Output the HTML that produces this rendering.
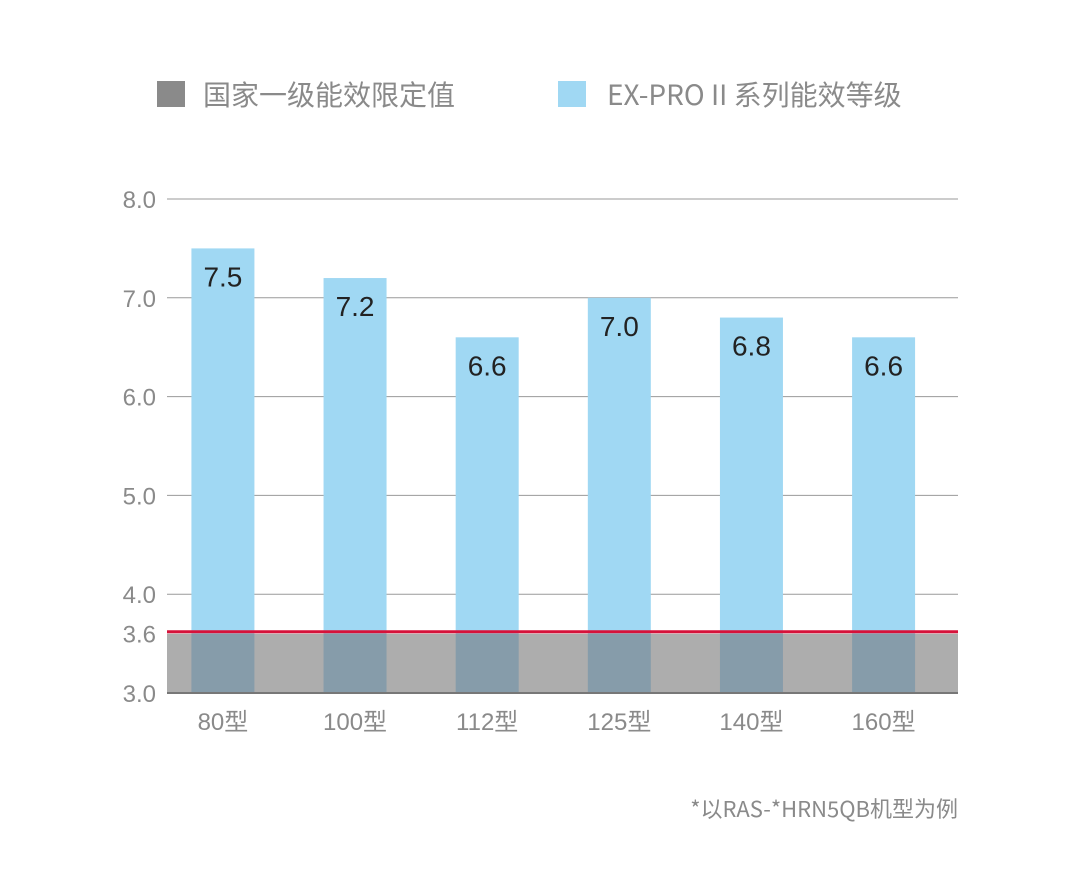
<!DOCTYPE html>
<html><head><meta charset="utf-8"><style>
html,body{margin:0;padding:0;background:#fff;width:1080px;height:885px;overflow:hidden}
svg{display:block;font-family:"Liberation Sans","Noto Sans CJK SC",sans-serif}
</style></head><body>
<svg id="chart" width="1080" height="885">
<g>
<rect x="157" y="81" width="28" height="26" fill="#8a8a8a"/>
<text x="203" y="105" font-size="28" fill="#8a8a8a" font-family="Noto Sans CJK SC, sans-serif">国家一级能效限定值</text>
<rect x="558" y="81" width="28" height="26" fill="#a0d8f3"/>
<text x="607" y="105" font-size="28" fill="#8a8a8a" font-family="Noto Sans CJK SC, sans-serif">EX-PRO II 系列能效等级</text>
</g>
<g id="grid"></g><g id="bars"></g><g id="labels"></g>
<text x="958" y="817" font-size="22" fill="#8a8a8a" text-anchor="end" font-family="Noto Sans CJK SC, sans-serif">*以RAS-*HRN5QB机型为例</text>
</svg>
<script>
const categories=["80型","100型","112型","125型","140型","160型"];
const values=[7.5,7.2,6.6,7.0,6.8,6.6];
const valueLabels=["7.5","7.2","6.6","7.0","6.8","6.6"];
const ticks=[3.0,4.0,5.0,6.0,7.0,8.0];
const tickLabels=["3.0","4.0","5.0","6.0","7.0","8.0"];
const threshold=3.6;
const NS="http://www.w3.org/2000/svg";
const x0=167,x1=958,yMin=3,yMax=8,py0=693,py1=199;
const y=v=>py0-(v-yMin)*(py0-py1)/(yMax-yMin);
const step=(x1-x0)/categories.length;
const xc=i=>x0+step*(i+0.5)-10+i*0.3;
function mk(tag,attrs,parent){const e=document.createElementNS(NS,tag);for(const k in attrs)e.setAttribute(k,attrs[k]);parent.appendChild(e);return e;}
const grid=document.getElementById('grid'),bars=document.getElementById('bars'),labels=document.getElementById('labels');
ticks.forEach((t,i)=>{
 if(t!==yMin){const l=mk('line',{x1:x0,x2:x1,y1:y(t),y2:y(t),stroke:'#9a9a9a','stroke-width':1},grid);
 
 }
 const tx=mk('text',{x:156,y:y(t)+9,'font-size':24,fill:'#8a8a8a','text-anchor':'end'},grid);
 tx.textContent=tickLabels[i];
 
 
});
const t36=mk('text',{x:156,y:y(threshold)+9,'font-size':24,fill:'#8a8a8a','text-anchor':'end'},grid);
t36.textContent=String(threshold.toFixed(1));


const bw=63;
values.forEach((v,i)=>{
 const b=mk('rect',{x:xc(i)-bw/2,y:y(v),width:bw,height:y(threshold)-y(v),fill:'#a0d8f3'},bars);
 
 
});
const band=mk('rect',{x:x0,y:y(threshold),width:x1-x0,height:py0-y(threshold),fill:'#adadad'},bars);


values.forEach((v,i)=>{
 const o=mk('rect',{x:xc(i)-bw/2,y:y(threshold),width:bw,height:py0-y(threshold),fill:'#869caa'},bars);
 
 
 const vl=mk('text',{x:xc(i),y:y(v)+38,'font-size':28,fill:'#222','text-anchor':'middle'},labels);
 vl.textContent=valueLabels[i];
 
 
 const cl=mk('text',{x:xc(i),y:730,'font-size':24,fill:'#8a8a8a','text-anchor':'middle'},labels);
 cl.textContent=categories[i];
 
 
});
const red=mk('line',{x1:x0,x2:x1,y1:y(threshold)-2,y2:y(threshold)-2,stroke:'#d6123a','stroke-width':3},bars);


const ax=mk('line',{x1:x0,x2:x1,y1:py0,y2:py0,stroke:'#777','stroke-width':2},bars);


</script>
</body></html>
